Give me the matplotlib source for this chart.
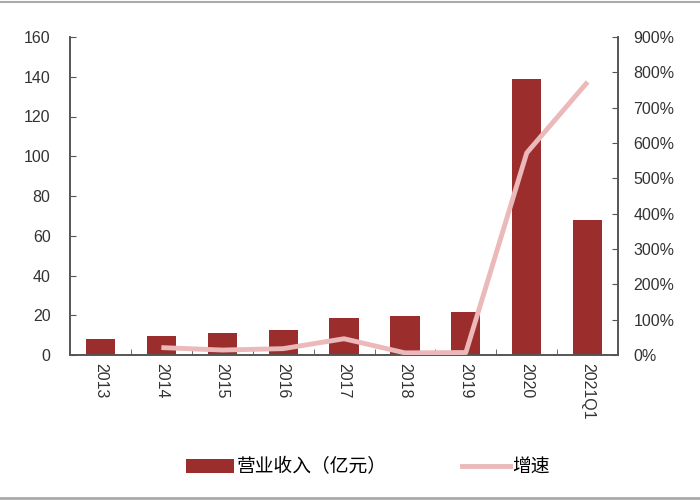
import matplotlib
matplotlib.use("Agg")
import matplotlib.pyplot as plt
from matplotlib.lines import Line2D
from matplotlib.patches import Patch
import numpy as np

plt.rcParams['font.family'] = ['Liberation Sans', 'Noto Sans CJK SC', 'DejaVu Sans']

# 数据
years = ['2013', '2014', '2015', '2016', '2017', '2018', '2019', '2020', '2021Q1']
revenue = [8.1, 9.8, 11.0, 12.5, 18.4, 19.7, 21.6, 139.0, 68.0]   # 营业收入（亿元）
growth = [None, 21, 14, 18, 46, 6, 7, 572, 773]                     # 增速 %

bar_color = '#9b2d2d'
line_color = '#ebb9b9'
text_color = '#333333'
spine_color = '#555555'

fig = plt.figure(figsize=(7, 5), dpi=100)
ax = fig.add_axes([0.1, 0.29, 0.783, 0.636])
ax2 = ax.twinx()

x = np.arange(len(years))
ax.bar(x, revenue, width=0.48, color=bar_color, zorder=2)

gx = [i for i, g in enumerate(growth) if g is not None]
gy = [g for g in growth if g is not None]
ax2.plot(gx, gy, color=line_color, linewidth=3.5, solid_capstyle='butt', zorder=3)

ax.set_xlim(-0.5, len(years) - 0.5)
ax.set_ylim(0, 160)
ax.set_yticks(range(0, 161, 20))
ax2.set_ylim(0, 900)
ax2.set_yticks(range(0, 901, 100))
ax2.set_yticklabels([f'{v}%' for v in range(0, 901, 100)])

ax.set_xticks(x)
ax.set_xticklabels(years, rotation=-90)
ax.set_xticks(np.arange(0.5, len(years) - 1, 1), minor=True)
ax.tick_params(axis='x', which='major', length=0, pad=6, labelsize=11.5, labelcolor=text_color)
ax.tick_params(axis='x', which='minor', direction='in', length=4, color=spine_color)
ax.tick_params(axis='y', direction='in', length=4, pad=14, labelsize=11.5,
               labelcolor=text_color, color=spine_color)
ax2.tick_params(axis='y', direction='in', length=4, pad=11, labelsize=11.5,
                labelcolor=text_color, color=spine_color)

for a in (ax, ax2):
    a.spines['top'].set_visible(False)
    for s in ('left', 'right', 'bottom'):
        a.spines[s].set_color(spine_color)
        a.spines[s].set_linewidth(1.2)
ax.set_zorder(ax2.get_zorder() - 1)
ax.patch.set_visible(False)
ax2.patch.set_visible(False)

handles = [Patch(facecolor=bar_color, edgecolor='none'),
           Line2D([0], [0], color=line_color, linewidth=3.5)]
fig.legend(handles, ['营业收入（亿元）', '增速'], loc='center', bbox_to_anchor=(0.526, 0.066),
           ncol=2, frameon=False, columnspacing=4.0, handlelength=2.55,
           handletextpad=0.15, prop={'family': ['Noto Sans CJK SC'], 'size': 13.5})

fig.add_artist(Line2D([0, 1], [0.997, 0.997], color='#aaaaaa', linewidth=1.5))
fig.add_artist(Line2D([0, 1], [0.005, 0.005], color='#aaaaaa', linewidth=2))

fig.savefig('out.png', dpi=100)
